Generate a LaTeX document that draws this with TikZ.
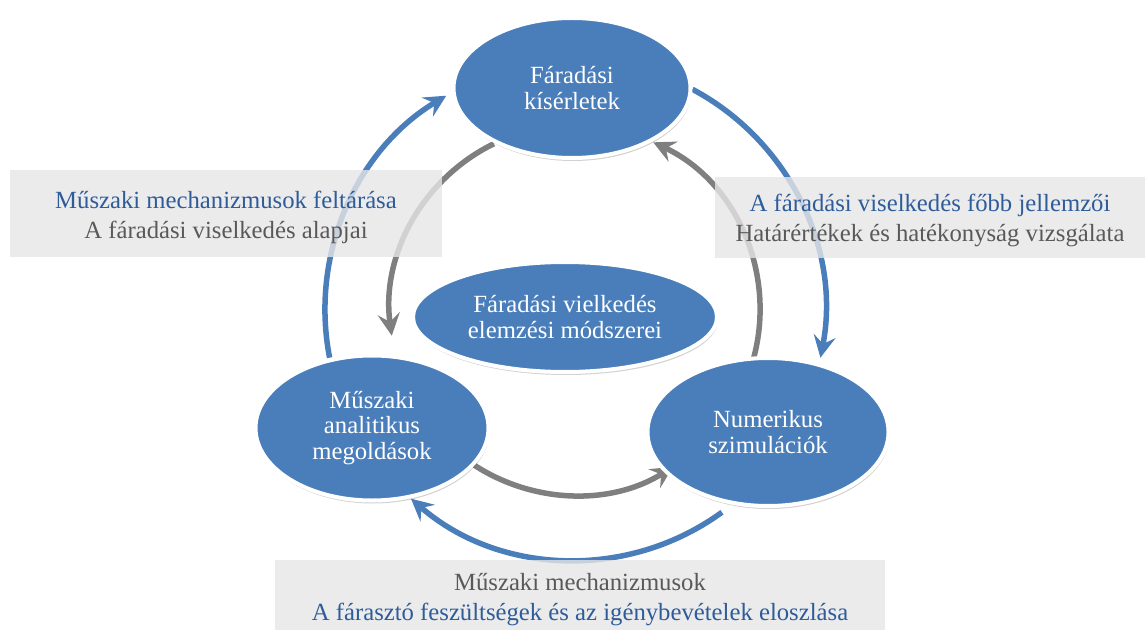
\documentclass[tikz,border=0pt]{standalone}
\usepackage{fontspec}
\setmainfont{Liberation Serif}
\usetikzlibrary{shapes.geometric,arrows.meta,shadows,calc}
\definecolor{ellblue}{HTML}{4A7EBB}
\definecolor{arrblue}{HTML}{4A7EBB}
\definecolor{arrgray}{HTML}{7F7F7F}
\definecolor{txtblue}{HTML}{2E5C9A}
\definecolor{txtgray}{HTML}{595959}
\definecolor{boxgray}{HTML}{E6E6E6}
\tikzset{
  x=1pt,y=1pt,
  ell/.style={ellipse, fill=ellblue, draw=white, line width=4pt, text=white, align=center,
    font=\fontsize{24.7}{25.5}\selectfont, inner sep=0pt,
    drop shadow={shadow xshift=1pt, shadow yshift=-3pt, fill=black, opacity=0.18}},
  lbox/.style={fill=boxgray, fill opacity=0.8, inner sep=0pt},
  ltext/.style={align=center, inner sep=0pt, font=\fontsize{24.7}{30}\selectfont},
  bluearr/.style={draw=arrblue, line width=5.5pt, -{Stealth[length=22pt,width=22pt,inset=8pt]}},
  grayarr/.style={draw=arrgray, line width=5.5pt, -{Stealth[length=22pt,width=22pt,inset=8pt]}},
}
\begin{document}
\begin{tikzpicture}
\useasboundingbox (0,0) rectangle (1145,630);
\coordinate (c) at (575,320);
% outer blue arrows
\coordinate (b1s) at ($(c)+(191:250)$);
\coordinate (b2s) at ($(c)+(62:250)$);
\coordinate (b3s) at ($(c)+(-54:250)$);
\draw[bluearr] (b1s) arc[start angle=191, end angle=121, radius=250];
\draw[bluearr] (b2s) arc[start angle=62, end angle=-11, radius=250];
\draw[bluearr] (b3s) arc[start angle=-54, end angle=-131, radius=250];
% inner gray arrows
\coordinate (g1s) at ($(c)+(116:185)$);
\coordinate (g2s) at ($(c)+(-15:185)$);
\coordinate (g3s) at ($(c)+(234:185)$);
\draw[grayarr] (g1s) arc[start angle=116, end angle=188, radius=185];
\draw[grayarr] (g2s) arc[start angle=-15, end angle=65, radius=185];
\draw[grayarr] (g3s) arc[start angle=234, end angle=302, radius=185];
% label boxes
\node[lbox, minimum width=432, minimum height=87] (lb) at (226,416.5) {};
\node[ltext] (lbt) at (226,413)
  {\textcolor{txtblue}{Műszaki mechanizmusok feltárása}\\\textcolor{txtgray}{A fáradási viselkedés alapjai}};
\node[lbox, minimum width=430, minimum height=81] (rb) at (930,412.5) {};
\node[ltext] (rbt) at (930,410)
  {\textcolor{txtblue}{A fáradási viselkedés főbb jellemzői}\\\textcolor{txtgray}{Határértékek és hatékonyság vizsgálata}};
\node[lbox, minimum width=610, minimum height=70] (bb) at (580,35) {};
\node[ltext] (bbt) at (580,30)
  {\textcolor{txtgray}{Műszaki mechanizmusok}\\\textcolor{txtblue}{A fárasztó feszültségek és az igénybevételek eloszlása}};
% ellipses
\node[ell, minimum width=304, minimum height=110] (mid) at (565,313) {Fáradási vielkedés\\elemzési módszerei};
\node[ell, minimum width=237, minimum height=140] (top) at (572,542) {Fáradási\\kísérletek};
\node[ell, minimum width=233, minimum height=145] (left) at (372,202) {Műszaki\\analitikus\\megoldások};
\node[ell, minimum width=241, minimum height=148] (right) at (768,198) {Numerikus\\szimulációk};
\end{tikzpicture}
\end{document}
